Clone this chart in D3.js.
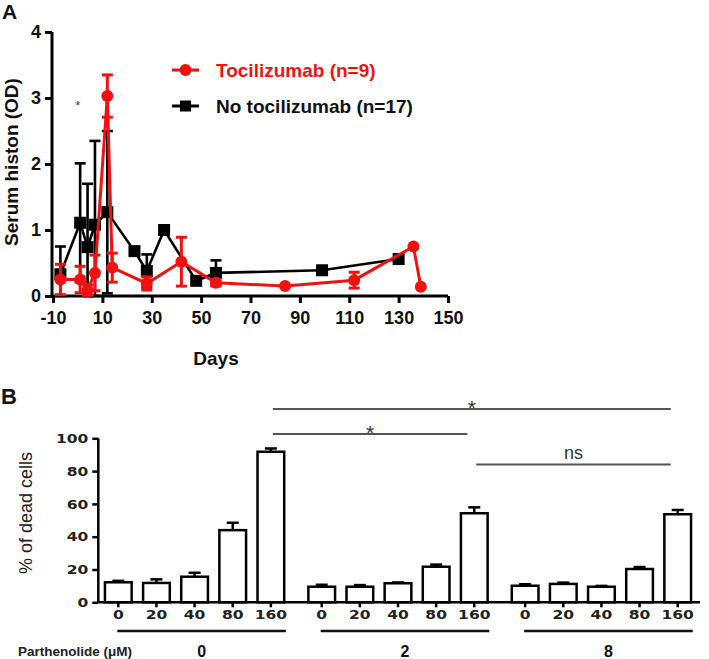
<!DOCTYPE html>
<html><head><meta charset="utf-8">
<script src="https://cdn.jsdelivr.net/npm/d3@7"></script>
<style>body{margin:0;background:#fff}svg{display:block}</style>
</head><body>
<svg id="c" width="709" height="659"></svg>
<script>
// ---------- Panel A data ----------
const seriesNames = ["Tocilizumab (n=9)", "No tocilizumab (n=17)"];
const daysToci = [-7, 1, 4, 7, 12, 14, 28, 42, 56, 84, 112, 136, 139];
const valsToci = [0.25, 0.25, 0.09, 0.35, 3.03, 0.43, 0.19, 0.52, 0.2, 0.15, 0.24, 0.75, 0.14];
const errToci  = [0.23, 0.2, 0.08, 0.27, 0.32, 0.22, 0.1, 0.37, 0.05, 0, 0.12, 0, 0];
const daysNo = [-7, 1, 4, 7, 12, 23, 28, 35, 48, 56, 99, 130];
const valsNo = [0.33, 1.11, 0.74, 1.08, 1.27, 0.68, 0.38, 1.0, 0.23, 0.35, 0.39, 0.56];
const errNo  = [0.42, 0.9, 0.96, 1.27, 1.23, 0, 0.25, 0, 0, 0.19, 0, 0];
const xTicksA = [-10, 10, 30, 50, 70, 90, 110, 130, 150];
const yTicksA = [0, 1, 2, 3, 4];

// ---------- Panel B data ----------
const groupsB = ["0", "2", "8"];
const concB = ["0", "20", "40", "80", "160"];
const meansB = [[12.2, 11.8, 15.6, 44, 91.8], [9.5, 9.5, 11.6, 21.7, 54.3], [10.1, 11.2, 9.5, 20.3, 53.7]];
const errB = [[0.9, 2.2, 2.4, 4.5, 2], [1.2, 1, 0.5, 1.3, 3.6], [0.9, 0.8, 0.5, 1.2, 2.6]];
const yTicksB = [0, 20, 40, 60, 80, 100];
// significance brackets: [groupA, barA, groupB, barB, label, height(% units)]
const sigB = [[0, 4, 2, 4, "*", 117.9], [0, 4, 1, 4, "*", 102.6], [1, 4, 2, 4, "ns", 84.1]];

const svg = d3.select("#c");
const RED = "#f51010";

// ================= Panel A =================
const xA = d3.scaleLinear().domain([-10, 150]).range([53, 448]);
const yA = d3.scaleLinear().domain([0, 4]).range([296, 32]);
const gA = svg.append("g");

const axA = gA.append("g").attr("transform", "translate(0,296)")
  .call(d3.axisBottom(xA).tickValues(xTicksA).tickSize(7).tickPadding(8)
    .tickFormat(d => (d < 0 ? "-" : "") + Math.abs(d)));
const ayA = gA.append("g").attr("transform", "translate(52,0)")
  .call(d3.axisLeft(yA).tickValues(yTicksA).tickSize(7).tickPadding(4).tickFormat(d3.format("d")));
[axA, ayA].forEach(a => {
  a.select(".domain").attr("stroke", "#000").attr("stroke-width", 3);
  a.selectAll(".tick line").attr("stroke", "#000").attr("stroke-width", 3);
  a.selectAll("text").attr("font-family", "Liberation Sans, Arial, sans-serif")
    .attr("font-weight", "bold").attr("font-size", 18).attr("fill", "#111");
});
axA.select(".domain").attr("d", `M${xA(-10)},0H${xA(150)}`);
ayA.select(".domain").attr("d", `M0,${yA(4)}V${yA(0)}`);

function drawSeries(days, vals, errs, color, shape, lw) {
  const pts = days.map((d, i) => ({x: d, y: vals[i], e: errs[i]}));
  const line = d3.line().x(d => xA(d.x)).y(d => yA(d.y));
  const g = gA.append("g");
  g.append("path").datum(pts).attr("d", line).attr("fill", "none")
    .attr("stroke", color).attr("stroke-width", lw);
  pts.filter(p => p.e > 0).forEach(p => {
    const lo = Math.max(0, p.y - p.e), hi = p.y + p.e, cx = xA(p.x);
    g.append("line").attr("x1", cx).attr("x2", cx).attr("y1", yA(lo)).attr("y2", yA(hi))
      .attr("stroke", color).attr("stroke-width", lw);
    [lo, hi].forEach(v => g.append("line").attr("x1", cx - 5.5).attr("x2", cx + 5.5)
      .attr("y1", yA(v)).attr("y2", yA(v)).attr("stroke", color).attr("stroke-width", lw));
  });
  pts.forEach(p => {
    if (shape === "circle") g.append("circle").attr("cx", xA(p.x)).attr("cy", yA(p.y)).attr("r", 6).attr("fill", color);
    else g.append("rect").attr("x", xA(p.x) - 6).attr("y", yA(p.y) - 6).attr("width", 12).attr("height", 12).attr("fill", color);
  });
}
drawSeries(daysNo, valsNo, errNo, "#000", "square", 2.6);
drawSeries(daysToci, valsToci, errToci, RED, "circle", 3);

// asterisk
gA.append("text").attr("x", xA(0)).attr("y", yA(2.91) + 6).attr("text-anchor", "middle")
  .attr("font-family", "Liberation Sans, Arial").attr("font-size", 13).attr("fill", "#444").text("*");

// legend
const legA = gA.append("g");
[[RED, "circle", 70], ["#000", "square", 106]].forEach((L, i) => {
  legA.append("line").attr("x1", 172).attr("x2", 199).attr("y1", L[2]).attr("y2", L[2])
    .attr("stroke", L[0]).attr("stroke-width", 3);
  if (L[1] === "circle") legA.append("circle").attr("cx", 185.5).attr("cy", L[2]).attr("r", 6).attr("fill", L[0]);
  else legA.append("rect").attr("x", 180).attr("y", L[2] - 5.5).attr("width", 11).attr("height", 11).attr("fill", L[0]);
  legA.append("text").attr("x", 216).attr("y", L[2] + 7).attr("font-family", "Liberation Sans, Arial")
    .attr("font-weight", "bold").attr("font-size", 19).attr("fill", i === 0 ? RED : "#111").text(seriesNames[i]);
});

// axis titles
gA.append("text").attr("transform", "translate(18,162) rotate(-90)").attr("text-anchor", "middle")
  .attr("font-family", "Liberation Sans, Arial").attr("font-weight", "bold").attr("font-size", 19)
  .attr("fill", "#111").text("Serum histon (OD)");
gA.append("text").attr("x", 216).attr("y", 365).attr("text-anchor", "middle")
  .attr("font-family", "Liberation Sans, Arial").attr("font-weight", "bold").attr("font-size", 19)
  .attr("fill", "#111").text("Days");
svg.append("text").attr("x", 2).attr("y", 19).attr("font-family", "Liberation Sans, Arial")
  .attr("font-weight", "bold").attr("font-size", 21).attr("fill", "#111").text("A");

// ================= Panel B =================
const slot = (g, i) => g * 5.3333 + i;
const xB = d3.scaleLinear().domain([0, slot(2, 4)]).range([118.3, 677.7]);
const yB = d3.scaleLinear().domain([0, 100]).range([602.3, 438.3]);
const barW = 26.7;
const gB = svg.append("g");

const barData = [];
groupsB.forEach((g, gi) => concB.forEach((c, ci) =>
  barData.push({g: gi, i: ci, c, v: meansB[gi][ci], e: errB[gi][ci]})));
gB.selectAll("line.err").data(barData).join("line").attr("class", "err")
  .attr("x1", d => xB(slot(d.g, d.i))).attr("x2", d => xB(slot(d.g, d.i)))
  .attr("y1", d => yB(d.v)).attr("y2", d => yB(d.v + d.e)).attr("stroke", "#000").attr("stroke-width", 2.5);
gB.selectAll("line.cap").data(barData).join("line").attr("class", "cap")
  .attr("x1", d => xB(slot(d.g, d.i)) - 6).attr("x2", d => xB(slot(d.g, d.i)) + 6)
  .attr("y1", d => yB(d.v + d.e)).attr("y2", d => yB(d.v + d.e)).attr("stroke", "#000").attr("stroke-width", 2.5);
gB.selectAll("rect.bar").data(barData).join("rect").attr("class", "bar")
  .attr("x", d => xB(slot(d.g, d.i)) - barW / 2).attr("width", barW)
  .attr("y", d => yB(d.v)).attr("height", d => yB(0) - yB(d.v))
  .attr("fill", "#fff").attr("stroke", "#000").attr("stroke-width", 2.5);

const FONTB = "DejaVu Sans, Verdana, sans-serif";
const ayB = gB.append("g").attr("transform", "translate(98.3,0)")
  .call(d3.axisLeft(yB).tickValues(yTicksB).tickSize(6).tickPadding(6));
ayB.select(".domain").attr("d", `M0,${yB(100)}V${yB(0)}`).attr("stroke", "#000").attr("stroke-width", 2.5);
ayB.selectAll(".tick line").attr("stroke", "#000").attr("stroke-width", 2.5);
ayB.selectAll(".tick text").attr("font-family", FONTB).attr("font-weight", "bold").attr("font-size", 11.5)
  .attr("fill", "#222").attr("text-anchor", "end")
  .attr("transform", "scale(1.35,1)").attr("x", -10 / 1.35).attr("dy", "0.36em");

const axB = gB.append("g").attr("transform", `translate(0,${yB(0)})`);
axB.append("line").attr("x1", 98.3).attr("x2", 700).attr("stroke", "#000").attr("stroke-width", 2.5);
const tk = axB.selectAll("g.tk").data(barData).join("g").attr("class", "tk")
  .attr("transform", d => `translate(${xB(slot(d.g, d.i))},0)`);
tk.append("line").attr("y2", 5).attr("stroke", "#000").attr("stroke-width", 2.5);
tk.append("text").attr("y", 17).attr("text-anchor", "middle").attr("font-family", FONTB)
  .attr("font-weight", "bold").attr("font-size", 11.5).attr("fill", "#222")
  .attr("transform", "scale(1.35,1)").text(d => d.c);

groupsB.forEach((g, gi) => {
  const x1 = xB(slot(gi, 0)) - 1, x2 = xB(slot(gi, 4)) + 15;
  gB.append("line").attr("x1", x1).attr("x2", x2).attr("y1", 631).attr("y2", 631)
    .attr("stroke", "#111").attr("stroke-width", 2.5);
  gB.append("text").attr("x", (x1 + x2) / 2).attr("y", 657).attr("text-anchor", "middle")
    .attr("font-family", "Liberation Sans, Arial").attr("font-weight", "bold").attr("font-size", 16)
    .attr("fill", "#111").text(g);
});
gB.append("text").attr("x", 18).attr("y", 656).attr("font-family", "Liberation Sans, Arial")
  .attr("font-weight", "bold").attr("font-size", 13.5).attr("fill", "#222").text("Parthenolide (μM)");

sigB.forEach(s => {
  const xa = xB(slot(s[0], s[1])) + 2, xb = xB(slot(s[2], s[3])) - 7, y = yB(s[5]);
  gB.append("line").attr("x1", xa).attr("x2", xb).attr("y1", y).attr("y2", y)
    .attr("stroke", "#555").attr("stroke-width", 2);
  const t = gB.append("text").attr("x", (xa + xb) / 2).attr("text-anchor", "middle")
    .attr("font-family", "Liberation Sans, Arial").attr("fill", "#333").text(s[4]);
  if (s[4] === "ns") t.attr("y", y - 5).attr("font-size", 18);
  else t.attr("y", y + 6).attr("font-size", 21);
});

gB.append("text").attr("transform", "translate(32,513) rotate(-90)").attr("text-anchor", "middle")
  .attr("font-family", "Liberation Sans, Arial").attr("font-size", 18).attr("fill", "#222")
  .text("% of dead cells");
svg.append("text").attr("x", 1).attr("y", 404).attr("font-family", "Liberation Sans, Arial")
  .attr("font-weight", "bold").attr("font-size", 22).attr("fill", "#111").text("B");
</script>
</body></html>
